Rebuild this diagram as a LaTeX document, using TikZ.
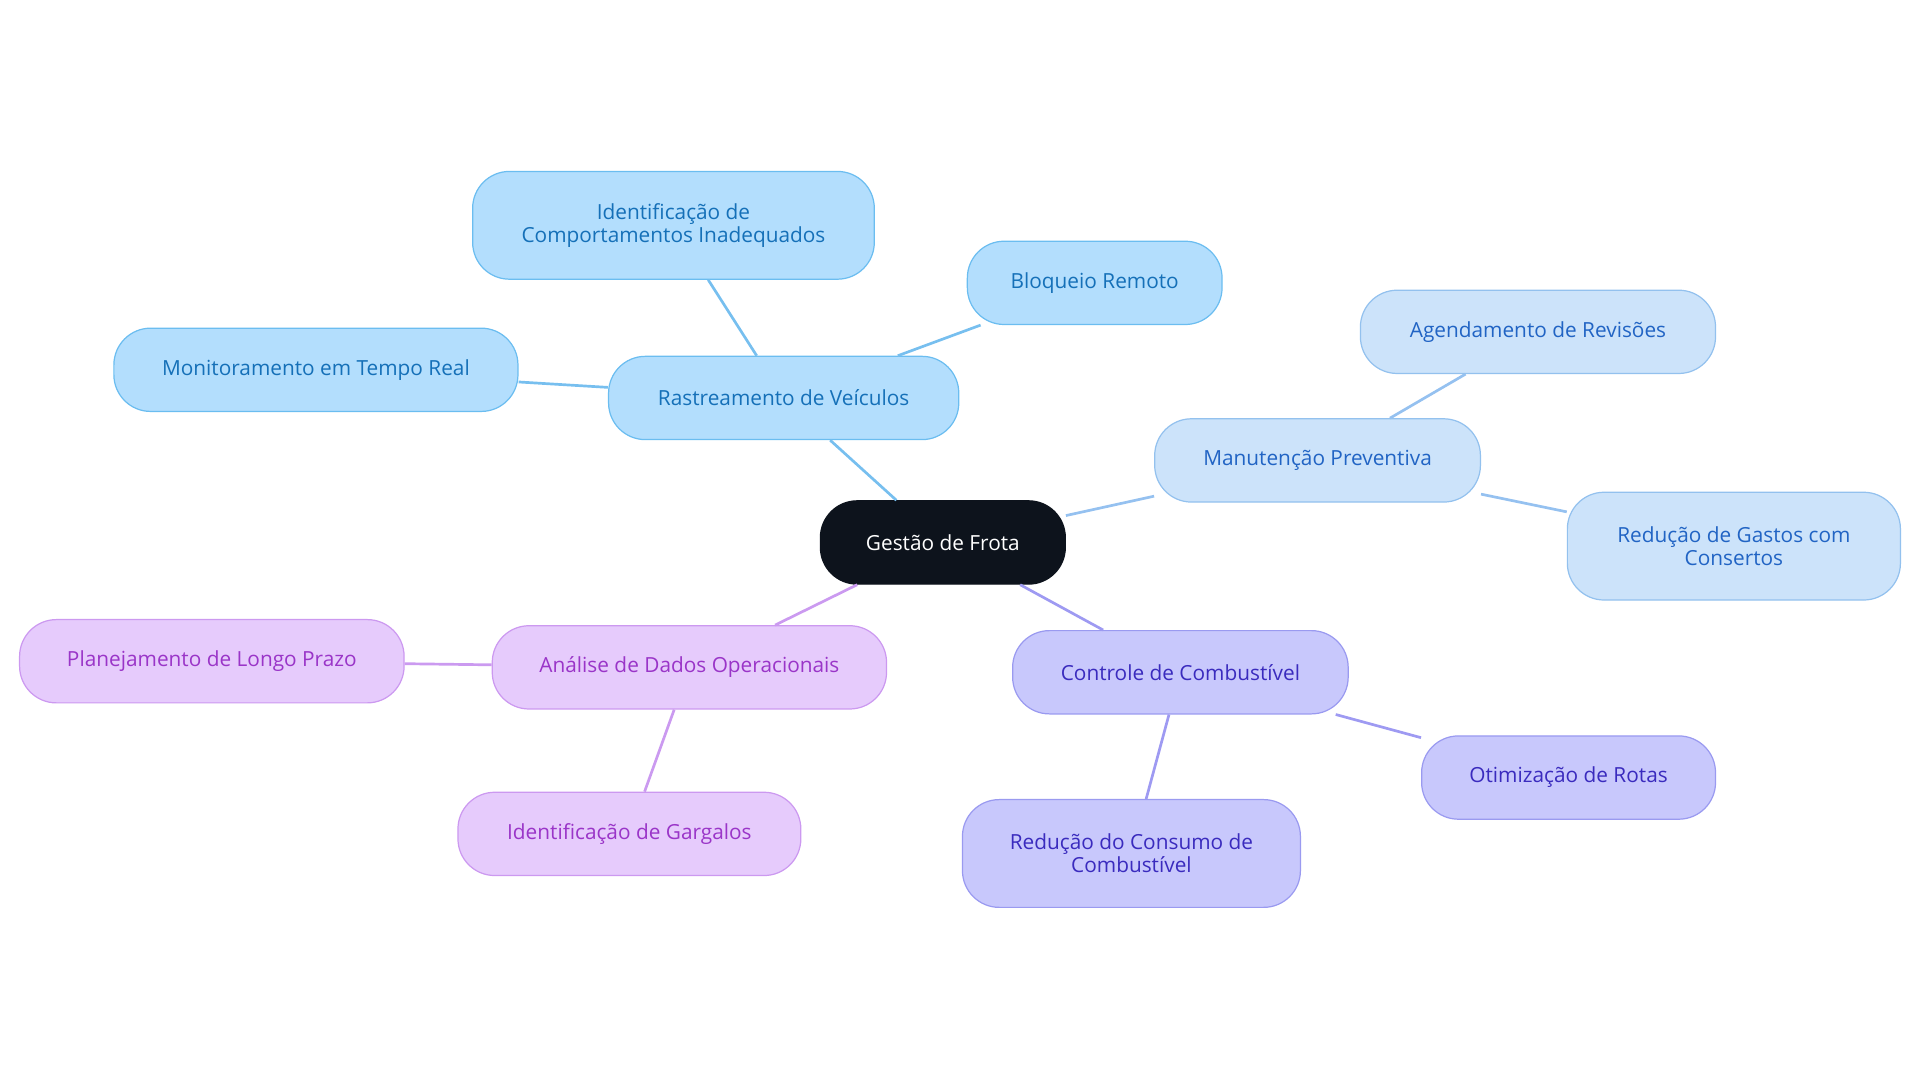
\documentclass[tikz,border=0pt]{standalone}
\usepackage{fontspec}
\setmainfont{Open Sans}
\definecolor{ctr}{HTML}{0D131C}
\definecolor{bF}{HTML}{B3DEFD}\definecolor{bD}{HTML}{6BBDF0}\definecolor{bT}{HTML}{1570B8}\definecolor{bE}{HTML}{77BFEF}
\definecolor{lF}{HTML}{CCE3FA}\definecolor{lD}{HTML}{93C1EE}\definecolor{lT}{HTML}{2164C4}\definecolor{lE}{HTML}{95C1F0}
\definecolor{pF}{HTML}{C8C8FC}\definecolor{pD}{HTML}{9A9AF0}\definecolor{pT}{HTML}{3A2BBE}\definecolor{pE}{HTML}{9E9AF2}
\definecolor{vF}{HTML}{E6CBFC}\definecolor{vD}{HTML}{CC99F0}\definecolor{vT}{HTML}{9A35C8}\definecolor{vE}{HTML}{CB9AF0}
\tikzset{
 box/.style={rounded corners=30pt,align=center,font=\fontsize{17}{19}\selectfont,inner sep=0pt,line width=1pt},
 bb/.style={box,fill=bF,draw=bD,text=bT},
 lb/.style={box,fill=lF,draw=lD,text=lT},
 pb/.style={box,fill=pF,draw=pD,text=pT},
 vb/.style={box,fill=vF,draw=vD,text=vT},
 ed/.style={line width=2.2pt}
}
\begin{document}
\begin{tikzpicture}[x=1pt,y=-1pt]
\useasboundingbox (0,0) rectangle (1568,884);
\node[box,fill=ctr,draw=ctr,text=white,minimum width=200pt,minimum height=68pt] (c) at (770,443) {Gestão de Frota};
\node[bb,minimum width=286pt,minimum height=68pt] (r) at (640,325) {Rastreamento de Veículos};
\node[bb,minimum width=328pt,minimum height=88pt] (r1) at (550,184) {Identificação de\\Comportamentos Inadequados};
\node[bb,minimum width=208pt,minimum height=68pt] (r2) at (894,231) {Bloqueio Remoto};
\node[bb,minimum width=330pt,minimum height=68pt] (r3) at (258,302) {Monitoramento em Tempo Real};
\node[lb,minimum width=266pt,minimum height=68pt] (m) at (1076,376) {Manutenção Preventiva};
\node[lb,minimum width=290pt,minimum height=68pt] (m1) at (1256,271) {Agendamento de Revisões};
\node[lb,minimum width=272pt,minimum height=88pt] (m2) at (1416,446) {Redução de Gastos com\\Consertos};
\node[pb,minimum width=274pt,minimum height=68pt] (k) at (964,549) {Controle de Combustível};
\node[pb,minimum width=240pt,minimum height=68pt] (k1) at (1281,635) {Otimização de Rotas};
\node[pb,minimum width=276pt,minimum height=88pt] (k2) at (924,697) {Redução do Consumo de\\Combustível};
\node[vb,minimum width=322pt,minimum height=68pt] (a) at (563,545) {Análise de Dados Operacionais};
\node[vb,minimum width=314pt,minimum height=68pt] (a1) at (173,540) {Planejamento de Longo Prazo};
\node[vb,minimum width=280pt,minimum height=68pt] (a2) at (514,681) {Identificação de Gargalos};
\begin{scope}[on background layer/.style={}]
\end{scope}
\begin{pgfinterruptboundingbox}\end{pgfinterruptboundingbox}
\draw[ed,bE] (c) -- (r); \draw[ed,bE] (r) -- (r1); \draw[ed,bE] (r) -- (r2); \draw[ed,bE] (r) -- (r3);
\draw[ed,lE] (c) -- (m); \draw[ed,lE] (m) -- (m1); \draw[ed,lE] (m) -- (m2);
\draw[ed,pE] (c) -- (k); \draw[ed,pE] (k) -- (k1); \draw[ed,pE] (k) -- (k2);
\draw[ed,vE] (c) -- (a); \draw[ed,vE] (a) -- (a1); \draw[ed,vE] (a) -- (a2);
\end{tikzpicture}
\end{document}
